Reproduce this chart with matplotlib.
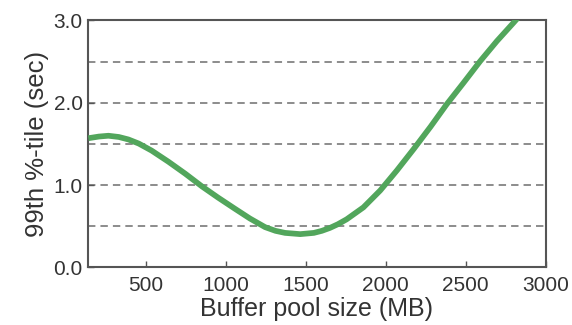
import numpy as np
import matplotlib.pyplot as plt

plt.rcParams['font.family'] = ['Liberation Sans', 'DejaVu Sans']

# values
pool_mb = [140, 205, 265, 330, 390, 455, 535, 640, 745, 850, 950, 1055, 1150,
           1245, 1310, 1370, 1465, 1550, 1600, 1650, 1700, 1755, 1860, 1965, 2070, 2175,
           2280, 2380, 2485, 2590, 2695, 2800, 2825]
p99_sec = [1.57, 1.59, 1.60, 1.585, 1.555, 1.505, 1.42, 1.285, 1.14, 0.985, 0.85, 0.715, 0.595,
           0.49, 0.445, 0.42, 0.405, 0.42, 0.445, 0.48, 0.525, 0.585, 0.73, 0.935, 1.18, 1.44,
           1.71, 1.98, 2.24, 2.505, 2.75, 2.975, 3.03]

xticks = [500, 1000, 1500, 2000, 2500, 3000]
yticks = [0.0, 1.0, 2.0, 3.0]
grid_levels = [0.5, 1.0, 1.5, 2.0, 2.5]

fig = plt.figure(figsize=(5.72, 3.25), dpi=100)
ax = fig.add_axes([0.154, 0.177, 0.8, 0.76])

for g in grid_levels:
    ax.axhline(g, color='#8c8c8c', lw=1.4, ls=(0, (3.8, 2.6)), zorder=1)

ax.plot(pool_mb, p99_sec, color='#52a65c', lw=4.1, solid_joinstyle='round',
        solid_capstyle='butt', zorder=3)

ax.set_xlim(138, 3000)
ax.set_ylim(0, 3.0)
ax.set_xticks(xticks)
ax.set_yticks(yticks)
ax.set_yticklabels([f'{v:.1f}' for v in yticks])
ax.tick_params(axis='both', direction='in', length=4, width=1, colors='#555555',
               labelsize=15, labelcolor='#333333')
ax.tick_params(axis='x', pad=6)
ax.tick_params(axis='y', pad=4)
for s in ax.spines.values():
    s.set_color('#555555')
    s.set_linewidth(1.5)

ax.set_xlabel('Buffer pool size (MB)', fontsize=18, color='#333333', labelpad=1.5)
ax.set_ylabel('99th %-tile (sec)', fontsize=18.5, color='#333333', labelpad=3)

fig.savefig('out.png', dpi=100)
